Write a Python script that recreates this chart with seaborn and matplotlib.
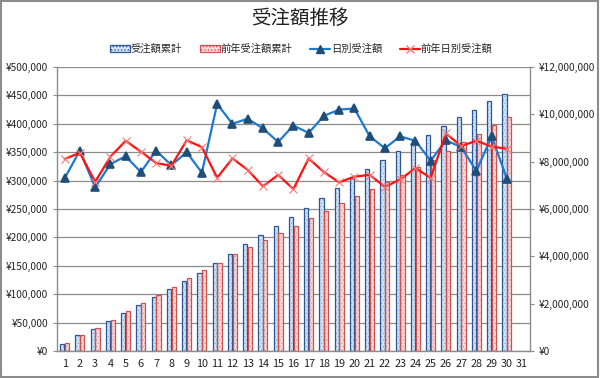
"""受注額推移: daily orders (lines, left axis) and cumulative orders (bars, right axis)."""

import matplotlib.pyplot as plt
import matplotlib.ticker as mticker
import numpy as np
import pandas as pd
import seaborn as sns
from matplotlib.lines import Line2D
from matplotlib.patches import Patch, Rectangle

# --- data ------------------------------------------------------------------
days = list(range(1, 32))
daily_orders = [
    304000, 353000, 288000, 329000, 343000, 315000, 353000, 327000, 350000, 314000,
    435000, 400000, 409000, 392000, 368000, 397000, 384000, 414000, 425000, 427000,
    378000, 357000, 378000, 370000, 335000, 371000, 359000, 317000, 378000, 303000,
]
prev_daily_orders = [
    338000, 349000, 298000, 342000, 370000, 351000, 331000, 326000, 371000, 359000,
    305000, 339000, 319000, 290000, 310000, 285000, 339000, 315000, 297000, 307000,
    310000, 289000, 302000, 322000, 305000, 383000, 361000, 370000, 360000, 356000,
]
series_names = ["受注額累計", "前年受注額累計", "日別受注額", "前年日別受注額"]

BLUE_EDGE = "#2F5597"
BLUE_FILL = "#D3E4F5"
BLUE_DOT = "#8DB4E2"
RED_EDGE = "#D0504D"
RED_FILL = "#F8DADA"
RED_DOT = "#E89A9A"
BLUE_LINE = "#1C7AD3"
BLUE_MARK = "#1F4E79"
RED_LINE = "#FF1010"
RED_MARK = "#F08080"
GRID = "#8C8C8C"

sns.set_theme(style="white")
plt.rcParams["font.family"] = ["Noto Sans CJK JP", "DejaVu Sans"]
plt.rcParams["hatch.linewidth"] = 0.6

n = len(daily_orders)
df = pd.DataFrame({
    "day": days[:n] * 2,
    "cum": np.concatenate([np.cumsum(daily_orders), np.cumsum(prev_daily_orders)]),
    "series": [series_names[0]] * n + [series_names[1]] * n,
})
daily_df = pd.DataFrame({"day": days[:n], "now": daily_orders, "prev": prev_daily_orders})

fig = plt.figure(figsize=(6.0, 3.78), dpi=100)
ax = fig.add_axes([0.095, 0.0714, 0.788, 0.7513])  # bars, right scale
ax2 = ax.twinx()                                     # lines, left scale

# bars drawn twice: dotted fill pass, then a solid outline pass
for _ in range(2):
    sns.barplot(
        data=df, x="day", y="cum", hue="series", order=days,
        hue_order=series_names[:2], ax=ax, width=0.62, gap=0.12,
        palette=[BLUE_FILL, RED_FILL], legend=False, zorder=2,
    )
half = len(ax.patches) // 2
for k, p in enumerate(ax.patches):
    blue = (k % half) < half // 2
    if k < half:
        p.set_facecolor(BLUE_FILL if blue else RED_FILL)
        p.set_edgecolor(BLUE_DOT if blue else RED_DOT)
        p.set_hatch(".....")
        p.set_linewidth(0)
    else:
        p.set_facecolor("none")
        p.set_edgecolor(BLUE_EDGE if blue else RED_EDGE)
        p.set_linewidth(0.9)

ax.set_ylim(0, 12_000_000)
ax.set_xlim(-0.5, len(days) - 0.5)
ax.yaxis.tick_right()
ax.yaxis.set_major_locator(mticker.MultipleLocator(2_000_000))
ax.yaxis.set_major_formatter(mticker.FuncFormatter(lambda v, _: f"¥{v:,.0f}"))
for v in np.linspace(0, 12_000_000, 11):
    ax.axhline(v, color=GRID, lw=0.9, zorder=0)

# lines
sns.pointplot(data=daily_df, x="day", y="now", order=days, ax=ax2,
              color=BLUE_LINE, errorbar=None, marker="^", markersize=6,
              linewidth=1.6)
sns.pointplot(data=daily_df, x="day", y="prev", order=days, ax=ax2,
              color=RED_LINE, errorbar=None, marker="x", markersize=6,
              linewidth=1.6)
ln_now, ln_prev = ax2.lines[-2], ax2.lines[-1]
ln_now.set_markerfacecolor(BLUE_MARK)
ln_now.set_markeredgecolor(BLUE_MARK)
ln_prev.set_markeredgecolor(RED_MARK)
ln_prev.set_markeredgewidth(0.8)

ax2.set_ylim(0, 500_000)
ax2.set_xlim(-0.5, len(days) - 0.5)
ax2.yaxis.tick_left()
ax2.yaxis.set_major_locator(mticker.MultipleLocator(50_000))
ax2.yaxis.set_major_formatter(mticker.FuncFormatter(lambda v, _: f"¥{v:,.0f}"))

for a in (ax, ax2):
    a.set_xlabel("")
    a.set_ylabel("")
    for s in a.spines.values():
        s.set_visible(False)
    a.tick_params(axis="y", labelsize=7.3, labelcolor="#222222", length=3,
                  width=0.8, color=GRID)
for s in ("left", "right", "bottom"):
    ax.spines[s].set_visible(True)
    ax.spines[s].set_color(GRID)
    ax.spines[s].set_linewidth(1.0)

ax.set_xticks(range(len(days)))
ax.set_xticklabels([str(d) for d in days])
ax.set_xticks(np.arange(-0.5, len(days)), minor=True)
ax.tick_params(axis="x", which="major", length=0, labelsize=7.8, pad=6, labelcolor="#222222")
ax.tick_params(axis="x", which="minor", length=4, color=GRID, width=0.8)
ax2.tick_params(axis="x", which="both", length=0, labelbottom=False)

fig.text(0.5, 0.951, "受注額推移", ha="center", va="center", fontsize=14, color="#222222")

handles = [
    Patch(facecolor=BLUE_FILL, edgecolor=BLUE_EDGE, hatch=".....", lw=0.9),
    Patch(facecolor=RED_FILL, edgecolor=RED_EDGE, hatch=".....", lw=0.9),
    Line2D([], [], color=BLUE_LINE, lw=1.6, marker="^", ms=5.5,
           markerfacecolor=BLUE_MARK, markeredgecolor=BLUE_MARK),
    Line2D([], [], color=RED_LINE, lw=1.6, marker="x", ms=5.5, markeredgecolor=RED_MARK),
]
fig.legend(handles, series_names, loc="center", bbox_to_anchor=(0.502, 0.870), ncol=4,
           frameon=False, fontsize=7.4, handlelength=2.0, handletextpad=0.05,
           columnspacing=1.7, handleheight=0.6, borderaxespad=0)

fig.patches.append(Rectangle((0.002, 0.003), 0.995, 0.994, transform=fig.transFigure,
                             fill=False, edgecolor="#8C8C8C", lw=1.5))

fig.savefig("out.png", dpi=100)
